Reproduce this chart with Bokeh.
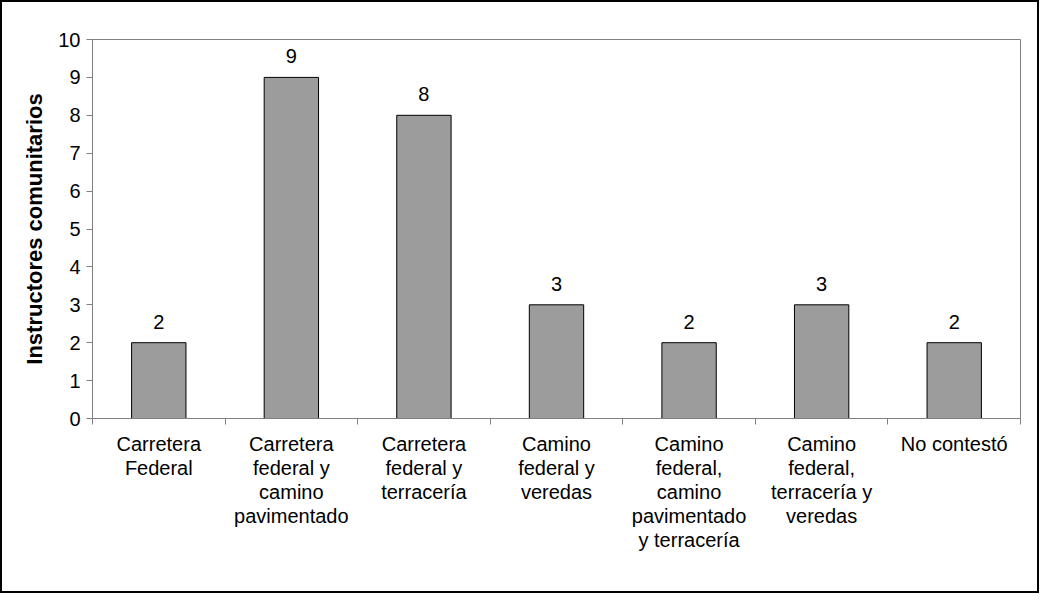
from bokeh.plotting import figure
from bokeh.models import ColumnDataSource, Range1d, LinearAxis, FixedTicker
from bokeh.embed import file_html
from bokeh.resources import INLINE

categories = ["Carretera Federal", "Carretera federal y camino pavimentado",
              "Carretera federal y terracería", "Camino federal y veredas",
              "Camino federal, camino pavimentado y terracería",
              "Camino federal, terracería y veredas", "No contestó"]
wrapped = ["Carretera\nFederal", "Carretera\nfederal y\ncamino\npavimentado",
           "Carretera\nfederal y\nterracería", "Camino\nfederal y\nveredas",
           "Camino\nfederal,\ncamino\npavimentado\ny terracería",
           "Camino\nfederal,\nterracería y\nveredas", "No contestó"]
values = [2, 9, 8, 3, 2, 3, 2]
y_ticks = list(range(0, 11))
y_label = "Instructores comunitarios"

FONT = "Liberation Sans"
FS = "20px"
n = len(categories)
centers = [i + 0.5 for i in range(n)]
src = ColumnDataSource(dict(x=centers, val=values, lab=[str(v) for v in values]))

p = figure(width=1039, height=593, x_range=Range1d(0, n), y_range=Range1d(0, 10),
           output_backend="svg", toolbar_location=None, x_axis_location=None,
           min_border_left=90, min_border_right=21, min_border_top=37, min_border_bottom=177)
p.styles = {"border": "2px solid black", "box-sizing": "border-box"}
p.outline_line_color = "#808080"
p.outline_line_width = 1
p.xgrid.visible = False
p.ygrid.visible = False

p.vbar(x="x", top="val", width=0.41, source=src, fill_color="#9c9c9c", line_color="black", line_width=1)
p.text(x="x", y="val", text="lab", source=src, text_align="center", text_baseline="bottom",
       y_offset=-14, text_font={"value": FONT}, text_font_size=FS, text_color="black")

# y axis
ya = p.yaxis[0]
ya.ticker = FixedTicker(ticks=y_ticks)
ya.axis_label = y_label
ya.axis_label_text_font = FONT
ya.axis_label_text_font_style = "bold"
ya.axis_label_text_font_size = "22px"
ya.axis_label_text_color = "black"
ya.axis_label_standoff = 8
ya.major_label_text_font = FONT
ya.major_label_text_font_size = FS
ya.major_label_text_color = "black"
ya.axis_line_color = "#808080"
ya.major_tick_line_color = "#808080"
ya.major_tick_out = 6
ya.major_tick_in = 0
ya.minor_tick_line_color = None
ya.major_label_standoff = 6

# x tick axis at category boundaries
tick_axis = LinearAxis(ticker=FixedTicker(ticks=list(range(n + 1))))
tick_axis.axis_line_color = "#808080"
tick_axis.major_tick_line_color = "#808080"
tick_axis.major_tick_out = 6
tick_axis.major_tick_in = 0
tick_axis.minor_tick_line_color = None
tick_axis.major_label_text_font_size = "0px"
tick_axis.major_label_text_color = None
p.add_layout(tick_axis, "below")

# category labels at centers
overrides = {}
for c, w in zip(centers, wrapped):
    overrides[c] = w
    overrides[str(c)] = w
cat_axis = LinearAxis(ticker=FixedTicker(ticks=centers))
cat_axis.major_label_overrides = overrides
cat_axis.axis_line_color = None
cat_axis.major_tick_line_color = None
cat_axis.minor_tick_line_color = None
cat_axis.major_tick_out = 0
cat_axis.major_label_text_font = FONT
cat_axis.major_label_text_font_size = FS
cat_axis.major_label_text_color = "black"
cat_axis.major_label_text_line_height = 1.1
cat_axis.major_label_standoff = 8
cat_axis.major_label_text_align = "center"
cat_axis.major_label_text_baseline = "top"
p.add_layout(cat_axis, "below")

open("out.html", "w").write(file_html(p, INLINE))
